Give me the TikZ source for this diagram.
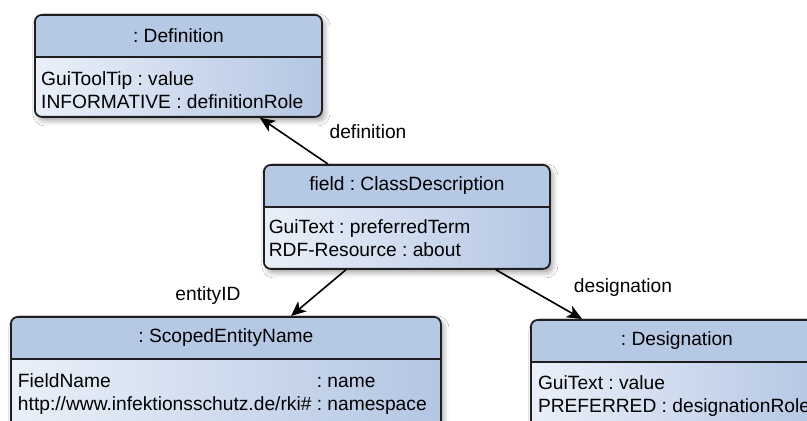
\documentclass[tikz,border=0pt]{standalone}
\usepackage{fontspec}
\setmainfont{Liberation Sans}
\usetikzlibrary{arrows.meta,shadows.blur}
\frenchspacing

\definecolor{headfill}{HTML}{B5C8E4}
\definecolor{bodylight}{HTML}{EAF0F9}
\definecolor{bodydark}{HTML}{B3C6E3}
\definecolor{edge}{HTML}{1E1E1E}

\tikzset{
  classbox/.style={
    draw=edge, line width=0.9pt, rounded corners=3.5pt,
    anchor=north west, inner sep=0pt,
    blur shadow={shadow xshift=1.5pt, shadow yshift=-2pt,
                 shadow blur radius=2.5pt, shadow opacity=35},
    path picture={
      \fill[headfill, sharp corners] (path picture bounding box.north west)
        rectangle ([yshift=-21pt]path picture bounding box.north east);
      \shade[left color=bodylight, right color=bodydark, sharp corners]
        ([yshift=-21pt]path picture bounding box.north west)
        rectangle (path picture bounding box.south east);
      \draw[edge, line width=0.9pt, sharp corners]
        ([yshift=-21pt]path picture bounding box.north west)
        -- ([yshift=-21pt]path picture bounding box.north east);
    }},
  bodytext/.style={anchor=base west, inner sep=0pt},
  assoc/.style={draw=black, line width=0.8pt,
    -{Stealth[length=7.5pt, width=6.5pt, inset=2pt]}},
  roletext/.style={inner sep=0pt}
}

\begin{document}
\begin{tikzpicture}[x=0.5pt, y=-0.5pt,
  font=\fontsize{9.6}{11.5}\selectfont]
  \useasboundingbox (0,0) rectangle (807,421);
  \fill[white] (0,0) rectangle (807,421);
  \clip (0,0) rectangle (807,421);

  % class instances
  \node[classbox, minimum width=143.5pt, minimum height=51pt] (def) at (34,14) {};
  \node[classbox, minimum width=143pt, minimum height=52pt] (cd) at (263,164) {};
  \node[classbox, minimum width=215pt, minimum height=70pt] (sen) at (10,316) {};
  \node[classbox, minimum width=146pt, minimum height=70pt] (des) at (530,319) {};

  % titles
  \node (defTitle) at ([yshift=-10.8pt]def.north) {: Definition};
  \node (cdTitle) at ([yshift=-10.8pt]cd.north) {field : ClassDescription};
  \node (senTitle) at ([yshift=-10.8pt]sen.north) {: ScopedEntityName};
  \node (desTitle) at ([yshift=-10.8pt]des.north) {: Designation};

  % slots
  \node[bodytext] (defBody) at ([xshift=3.4pt, yshift=-35.7pt]def.north west)
    {\begin{tabular}[t]{@{}l@{}}GuiToolTip : value\\INFORMATIVE : definitionRole\end{tabular}};
  \node[bodytext] (cdBody) at ([xshift=2.7pt, yshift=-34.6pt]cd.north west)
    {\begin{tabular}[t]{@{}l@{}}GuiText : preferredTerm\\RDF-Resource : about\end{tabular}};
  \node[bodytext] (senBody) at ([xshift=3.8pt, yshift=-35.5pt]sen.north west)
    {\begin{tabular}[t]{@{}l@{ }l@{}}FieldName & : name\\http://www.infektionsschutz.de/rki\# & : namespace\end{tabular}};
  \node[bodytext] (desBody) at ([xshift=3.8pt, yshift=-35.5pt]des.north west)
    {\begin{tabular}[t]{@{}l@{}}GuiText : value\\PREFERRED : designationRole\end{tabular}};

  % links
  \draw[assoc] ([xshift=-39.5pt]cd.north) -- ([xshift=40.75pt]def.south);
  \draw[assoc] ([xshift=-30.5pt]cd.south) -- ([xshift=32.5pt]sen.north);
  \draw[assoc] ([xshift=44.5pt]cd.south) -- ([xshift=26pt]des.north west);

  % role names
  \node[roletext] (defRole) at (368,132) {definition};
  \node[roletext] (senRole) at (208,296) {entityID};
  \node[roletext] (desRole) at (623,288) {designation};
\end{tikzpicture}
\end{document}
